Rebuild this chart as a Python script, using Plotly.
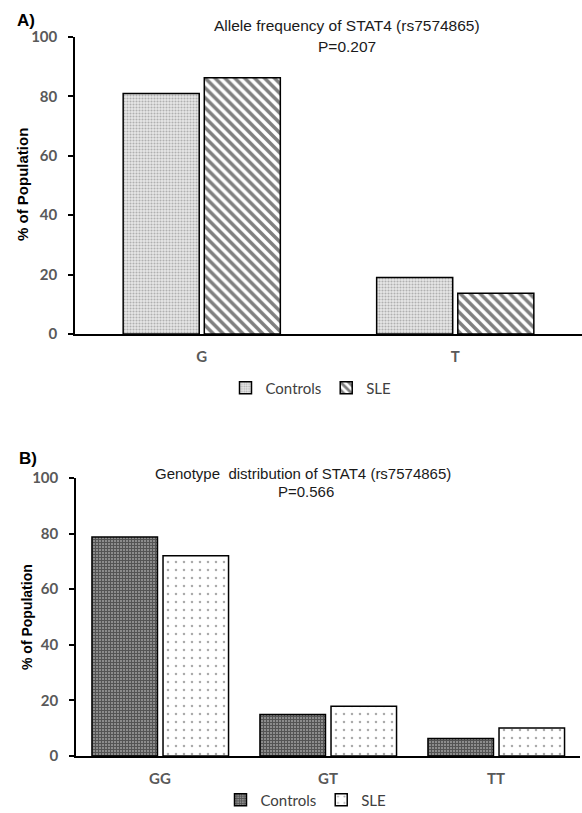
import plotly.graph_objects as go

# ---- data ----
categories_a = ["G", "T"]
controls_a = [81.0, 19.0]
sle_a = [86.3, 13.7]

categories_b = ["GG", "GT", "TT"]
controls_b = [78.8, 14.9, 6.3]
sle_b = [72.0, 17.9, 10.1]

y_ticks = [0, 20, 40, 60, 80, 100]
series_names = ["Controls", "SLE"]
title_a = "Allele frequency of STAT4 (rs7574865)"
pval_a = "P=0.207"
title_b = "Genotype&nbsp; distribution of STAT4 (rs7574865)"
pval_b = "P=0.566"

W, H = 582, 813
def px(x): return x / W
def py(y): return 1 - y / H

TICK_FONT = dict(family="Lato", size=15, color="#595959", weight="bold")
LEG_FONT = dict(family="Lato", size=15, color="#404040")
OUTLINE = dict(color="black", width=1.5)
TITLE_COLOR = "#1a1a1a"

fig = go.Figure()

# Panel A
fig.add_trace(go.Bar(
    x=categories_a, y=controls_a, name=series_names[0], xaxis="x", yaxis="y",
    width=0.30, offset=-0.31, legend="legend",
    marker=dict(color="white", line=OUTLINE,
                pattern=dict(shape=".", fgcolor="#777777", bgcolor="#e8e8e8",
                             size=3, solidity=0.4)),
))
fig.add_trace(go.Bar(
    x=categories_a, y=sle_a, name=series_names[1], xaxis="x", yaxis="y",
    width=0.30, offset=0.01, legend="legend",
    marker=dict(color="white", line=OUTLINE,
                pattern=dict(shape="\\", fgcolor="black", bgcolor="white",
                             size=7, solidity=0.5)),
))

# Panel B
fig.add_trace(go.Bar(
    x=categories_b, y=controls_b, name=series_names[0], xaxis="x2", yaxis="y2",
    width=0.39, offset=-0.405, legend="legend2",
    marker=dict(color="white", line=OUTLINE,
                pattern=dict(shape="+", fgcolor="#1a1a1a", bgcolor="#8c8c8c",
                             size=3, solidity=0.55)),
))
fig.add_trace(go.Bar(
    x=categories_b, y=sle_b, name=series_names[1], xaxis="x2", yaxis="y2",
    width=0.39, offset=0.018, legend="legend2",
    marker=dict(color="white", line=OUTLINE,
                pattern=dict(shape=".", fgcolor="#555555", bgcolor="white",
                             size=8, solidity=0.08)),
))

def yax(domain, anchor):
    return dict(domain=domain, anchor=anchor, range=[0, 100], tickvals=y_ticks,
                showline=True, linecolor="black", linewidth=1.5,
                ticks="outside", ticklen=5, tickcolor="black", tickwidth=1.5,
                ticklabelstandoff=8, tickfont=TICK_FONT, automargin=False,
                showgrid=False, zeroline=False, fixedrange=True)

def xax(domain, anchor, n):
    return dict(domain=domain, anchor=anchor, range=[-0.5, n - 0.5],
                showline=True, linecolor="black", linewidth=1.5,
                ticks="", ticklabelstandoff=8, tickfont=TICK_FONT, automargin=False,
                showgrid=False, zeroline=False, fixedrange=True)

annotations = [
    dict(text="<b>A)</b>", x=px(26), y=py(20), font=dict(family="Liberation Sans", size=17, color="black")),
    dict(text="<b>B)</b>", x=px(28), y=py(458), font=dict(family="Liberation Sans", size=17, color="black")),
    dict(text=title_a, x=px(347), y=py(25), font=dict(family="Liberation Sans", size=15.5, color=TITLE_COLOR)),
    dict(text=pval_a, x=px(347), y=py(46), font=dict(family="Liberation Sans", size=15.5, color=TITLE_COLOR)),
    dict(text=title_b, x=px(303), y=py(473), font=dict(family="Liberation Sans", size=15, color=TITLE_COLOR)),
    dict(text=pval_b, x=px(306), y=py(491), font=dict(family="Liberation Sans", size=15, color=TITLE_COLOR)),
    dict(text="<b>% of Population</b>", x=px(22), y=py(185), textangle=-90,
         font=dict(family="Liberation Sans", size=15, color="black")),
    dict(text="<b>% of Population</b>", x=px(27), y=py(617), textangle=-90,
         font=dict(family="Liberation Sans", size=14, color="black")),
]
for a in annotations:
    a.update(xref="paper", yref="paper", showarrow=False, xanchor="center", yanchor="middle")

fig.update_layout(
    width=W, height=H, autosize=False,
    margin=dict(l=0, r=0, t=0, b=0, autoexpand=False),
    paper_bgcolor="white", plot_bgcolor="white",
    barmode="overlay",
    xaxis=xax([px(75), 1.0], "y", len(categories_a)),
    yaxis=yax([py(334), py(37)], "x"),
    xaxis2=xax([px(76), px(580)], "y2", len(categories_b)),
    yaxis2=yax([py(756), py(478)], "x2"),
    legend=dict(orientation="h", x=px(311), xanchor="center", y=py(388), yanchor="middle",
                font=LEG_FONT, itemwidth=30, bgcolor="rgba(0,0,0,0)"),
    legend2=dict(orientation="h", x=px(306), xanchor="center", y=py(800), yanchor="middle",
                 font=LEG_FONT, itemwidth=30, bgcolor="rgba(0,0,0,0)"),
    annotations=annotations,
    showlegend=True,
)

fig.write_html(
    "out.html",
    config={"displayModeBar": False},
    post_script="document.body.style.margin='0';document.body.style.overflow='hidden';",
)
